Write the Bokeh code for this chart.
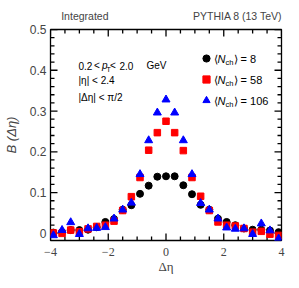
from bokeh.plotting import figure
from bokeh.models import (Range1d, FixedTicker, LinearAxis, Label, Legend, LegendItem,
                          ColumnDataSource)
from bokeh.embed import file_html
from bokeh.resources import INLINE

# ---- data ----
deta = [-3.9, -3.6, -3.3, -3.0, -2.7, -2.4, -2.1, -1.8, -1.5, -1.2, -0.9, -0.6, -0.3, 0.0,
        0.3, 0.6, 0.9, 1.2, 1.5, 1.8, 2.1, 2.4, 2.7, 3.0, 3.3, 3.6, 3.9]
b_n8 = [0.002, 0.003, 0.008, 0.008, 0.009, 0.015, 0.028, 0.035, 0.058, 0.069, 0.097, 0.117, 0.139,
        0.140, 0.140, 0.118, 0.096, 0.070, 0.058, 0.036, 0.028, 0.020, 0.012, 0.009, 0.009, 0.007, 0.003]
b_n58 = [0.001, 0.000, 0.008, 0.004, 0.011, 0.017, 0.020, 0.030, 0.056, 0.090, 0.137, 0.204, 0.247,
         0.275, 0.247, 0.203, 0.137, 0.091, 0.056, 0.028, 0.020, 0.018, 0.012, 0.003, 0.005, -0.002, -0.005]
b_n106 = [-0.005, 0.008, 0.027, -0.002, 0.012, 0.013, 0.015, 0.036, 0.058, 0.075, 0.145, 0.228, 0.296,
          0.328, 0.296, 0.228, 0.145, 0.074, 0.058, 0.036, 0.014, 0.011, 0.012, -0.002, 0.024, 0.007, -0.013]
series_names = ["8", "58", "106"]
x_ticks = [-4, -2, 0, 2, 4]
x_tick_labels = ["\u22124", "\u22122", "0", "2", "4"]
y_ticks = [0.0, 0.1, 0.2, 0.3, 0.4, 0.5]
y_tick_labels = ["0", "0.1", "0.2", "0.3", "0.4", "0.5"]
header_left = "Integrated"
header_right = "PYTHIA 8 (13 TeV)"

SANS = "Liberation Sans"
SERIF = "Liberation Serif"

X0, X1 = -4.0, 4.0
Y0, Y1 = -0.0175, 0.5
FW, FH = 231, 211

p = figure(frame_width=FW, frame_height=FH,
           x_range=Range1d(X0, X1), y_range=Range1d(Y0, Y1),
           output_backend="svg", toolbar_location=None,
           min_border_left=49, min_border_right=19, min_border_top=29, min_border_bottom=48)
p.background_fill_color = "white"
p.border_fill_color = "white"
p.outline_line_color = "black"
p.outline_line_width = 1.3
p.grid.visible = False

x_minor = [v / 2 for v in range(-8, 9) if v % 4 != 0]
y_minor = [v / 50 for v in range(0, 26) if v % 5 != 0]
xt = FixedTicker(ticks=x_ticks, minor_ticks=[])
yt = FixedTicker(ticks=y_ticks, minor_ticks=[])


def style_axis(ax):
    ax.axis_line_color = None
    ax.major_tick_in = 0
    ax.major_tick_out = 0
    ax.minor_tick_in = 0
    ax.minor_tick_out = 0
    ax.major_tick_line_color = None
    ax.minor_tick_line_color = None


xa = p.xaxis[0]
xa.ticker = xt
style_axis(xa)
xa.major_label_overrides = {t: l for t, l in zip(x_ticks, x_tick_labels)}
xa.major_label_text_font = SERIF
xa.major_label_text_font_size = "12px"
xa.major_label_standoff = 7
xa.axis_label = "\u0394\u03b7"
xa.axis_label_text_font = SERIF
xa.axis_label_text_font_style = "normal"
xa.axis_label_text_font_size = "13px"
xa.axis_label_standoff = 0

ya = p.yaxis[0]
ya.ticker = yt
style_axis(ya)
ya.major_label_overrides = {t: l for t, l in zip(y_ticks, y_tick_labels)}
ya.major_label_text_font = SANS
ya.major_label_text_font_size = "12px"
ya.major_label_standoff = 4
ya.axis_label = "B (\u0394\u03b7)"
ya.axis_label_text_font = SANS
ya.axis_label_text_font_style = "italic"
ya.axis_label_text_font_size = "13px"
ya.axis_label_standoff = 8

# header texts as labels of an extra top axis
head_pos = [-2.81, 2.48]
head = LinearAxis(ticker=FixedTicker(ticks=head_pos, minor_ticks=[]),
                  major_label_overrides={head_pos[0]: header_left, head_pos[1]: header_right},
                  major_label_text_font=SANS, major_label_text_font_size="10.5px",
                  major_tick_in=0, major_tick_out=0, major_tick_line_color=None,
                  minor_tick_line_color=None, axis_line_color=None, major_label_standoff=8)
p.add_layout(head, "above")

# inward ticks on all four sides, drawn as thin filled boxes inside the frame
dx = (X1 - X0) / FW
dy = (Y1 - Y0) / FH
MAJ, MIN, TW = 7, 4, 1.3
ql, qr, qb, qt = [], [], [], []
for xs, ln in ((x_ticks, MAJ), (x_minor, MIN)):
    for t in xs:
        for b, tp in ((Y0, Y0 + ln * dy), (Y1 - ln * dy, Y1)):
            ql.append(t - TW / 2 * dx); qr.append(t + TW / 2 * dx)
            qb.append(b); qt.append(tp)
for ys, ln in ((y_ticks, MAJ), (y_minor, MIN)):
    for t in ys:
        for lft, rgt in ((X0, X0 + ln * dx), (X1 - ln * dx, X1)):
            ql.append(lft); qr.append(rgt)
            qb.append(t - TW / 2 * dy); qt.append(t + TW / 2 * dy)
tick_src = ColumnDataSource(dict(left=ql, right=qr, bottom=qb, top=qt))
p.quad(left="left", right="right", bottom="bottom", top="top", source=tick_src,
       fill_color="black", line_color=None)

src = ColumnDataSource(dict(x=deta, b8=b_n8, b58=b_n58, b106=b_n106))
r8 = p.scatter("x", "b8", source=src, marker="circle", size=7, color="black")
r58 = p.scatter("x", "b58", source=src, marker="square", size=6.5, color="#ff0000")
r106 = p.scatter("x", "b106", source=src, marker="triangle", size=8, color="#0000ff")

legend = Legend(items=[LegendItem(label="\u200a", renderers=[r]) for r in (r8, r58, r106)],
                location=(147, 130), margin=0, padding=0, spacing=1,
                glyph_width=18, glyph_height=20, label_height=20, label_standoff=0,
                border_line_color=None, background_fill_alpha=0,
                label_text_font_size="10px")
p.add_layout(legend, "center")

# frame-relative screen coordinates (x from frame left, y from frame bottom)
def lab(text, x, y, size="10px", font=SANS, style="normal", align="left", color="black"):
    p.add_layout(Label(x=x, y=y, x_units="screen", y_units="screen", text=text,
                       text_font=font, text_font_size=size, text_font_style=style,
                       text_align=align, text_baseline="middle", text_color=color))

lab("0.2", 28, 175)
lab("<", 43.5, 175)
lab("p", 51.5, 175, style="italic")
lab("T", 56, 171.5, size="7px")
lab("<", 59.5, 175)
lab("2.0", 69, 175)
lab("GeV", 96, 175)
lab("|\u03b7| < 2.4", 28, 160)
lab("|\u0394\u03b7| < \u03c0/2", 28, 143)

for i, n in enumerate(series_names):
    yy = 182 - i * 21
    lab("\u27e8", 163.5, yy, size="11px")
    lab("N", 167, yy, size="11px", style="italic")
    lab("ch", 175, yy - 3.5, size="7.5px")
    lab("\u27e9 = " + n, 183, yy, size="11px")

open("out.html", "w").write(file_html(p, INLINE))
